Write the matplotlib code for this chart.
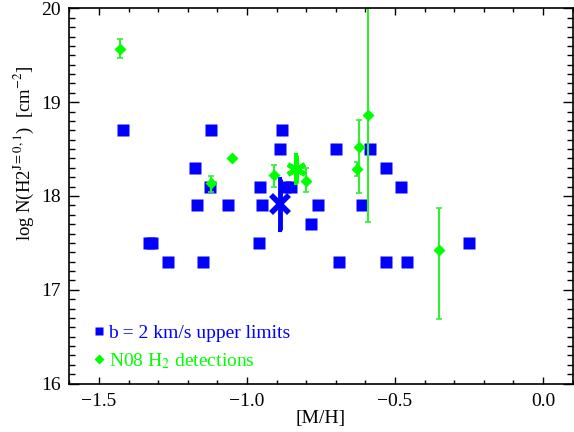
#!/usr/bin/env python
"""H2 column density upper limits vs metallicity."""
import matplotlib.pyplot as plt
from matplotlib.lines import Line2D
from matplotlib.ticker import MultipleLocator

# b = 2 km/s upper limits
lim_mh = [-1.42, -1.12, -0.88,
          -0.89, -0.70, -0.585,
          -1.175, -0.53,
          -1.125, -0.955, -0.87, -0.85, -0.48,
          -1.17, -1.065, -0.95, -0.76, -0.61,
          -0.785,
          -1.33, -1.32, -0.96, -0.25,
          -1.265, -1.15, -0.69, -0.53, -0.46]
lim_nh2 = [18.7, 18.7, 18.7,
           18.5, 18.5, 18.5,
           18.3, 18.3,
           18.1, 18.1, 18.1, 18.1, 18.1,
           17.9, 17.9, 17.9, 17.9, 17.9,
           17.7,
           17.5, 17.5, 17.5, 17.5,
           17.3, 17.3, 17.3, 17.3, 17.3]

# N08 H2 detections
det_mh = [-1.43, -1.12, -1.05, -0.91, -0.80, -0.63, -0.62, -0.59, -0.351]
det_nh2 = [19.57, 18.14, 18.41, 18.22, 18.16, 18.29, 18.52, 18.86, 17.42]
det_lo = [0.10, 0.10, 0.0, 0.12, 0.12, 0.08, 0.49, 1.14, 0.73]
det_hi = [0.10, 0.07, 0.0, 0.11, 0.14, 0.07, 0.29, 1.14, 0.45]

# mean values
mean_lim = (-0.89, 17.91, 0.27)
mean_det = (-0.835, 18.29, 0.15)

BLUE = '#0000ff'
GREEN = '#00ff00'
LGREEN = '#33ee33'
FS = 14


def main():
    """Draw and save the figure."""
    plt.rcParams['font.family'] = ['Liberation Serif', 'DejaVu Serif']
    plt.rcParams['mathtext.fontset'] = 'stix'
    fig = plt.figure(figsize=(5.74, 4.32), dpi=100)
    ax = fig.add_axes([0.1207, 0.112, 0.877, 0.8686])

    ax.plot(lim_mh, lim_nh2, 's', color=BLUE, ms=8, mec='none')
    ax.errorbar(det_mh, det_nh2, yerr=[det_lo, det_hi], fmt='D', color=GREEN,
                ecolor=LGREEN, ms=6, mec='none', elinewidth=1.5, capsize=2.5,
                capthick=1.2)

    ax.errorbar([mean_lim[0]], [mean_lim[1]], yerr=[mean_lim[2]], fmt='none',
                ecolor=BLUE, elinewidth=3.5, capsize=1.5, capthick=3)
    ax.plot([mean_lim[0]], [mean_lim[1]], 'x', color=BLUE, ms=13, mew=4)
    ax.errorbar([mean_det[0]], [mean_det[1]], yerr=[mean_det[2]],
                fmt='none', ecolor=GREEN, elinewidth=3.5, capsize=1.5,
                capthick=3)
    ax.plot([mean_det[0]], [mean_det[1]], marker=(6, 2, 0), color=GREEN,
            ms=14, mew=3.5, ls='none')

    ax.set_xlim(-1.6, 0.1)
    ax.set_ylim(16, 20)
    ax.xaxis.set_major_locator(MultipleLocator(0.5))
    ax.xaxis.set_minor_locator(MultipleLocator(0.1))
    ax.yaxis.set_major_locator(MultipleLocator(1))
    ax.yaxis.set_minor_locator(MultipleLocator(0.1))
    ax.xaxis.set_major_formatter(lambda v, p: f'{v:.1f}'.replace('-', '\u2212'))
    ax.tick_params(which='both', direction='in', top=True, right=True,
                   labelsize=FS, width=1, color='black')
    ax.tick_params(axis='x', which='major', length=5, pad=7)
    ax.tick_params(axis='x', which='minor', length=3)
    ax.tick_params(axis='y', which='major', length=7, pad=6)
    ax.tick_params(axis='y', which='minor', length=4)
    for s in ax.spines.values():
        s.set_linewidth(1.2)

    ax.set_xlabel('[M/H]', fontsize=FS, labelpad=0)
    fig.text(24 / 574, 1 - 153 / 432,
             'log N(H2$^{\\mathrm{J=0,1}}$)  [cm$^{-2}$]',
             fontsize=13.4, rotation=90, ha='center', va='center')

    handles = [Line2D([], [], ls='none', marker='s', color=BLUE, ms=6,
                      mec='none'),
               Line2D([], [], ls='none', marker='D', color=GREEN, ms=5,
                      mec='none')]
    labels = ['b = 2 km/s upper limits', 'N08 H$_2$ detections']
    leg = ax.legend(handles, labels, loc='lower left', frameon=False,
                    fontsize=FS, handlelength=0.5, handletextpad=0.25,
                    borderaxespad=0.3, labelspacing=0.45,
                    bbox_to_anchor=(0.022, -0.002))
    for txt, c in zip(leg.get_texts(), [BLUE, GREEN]):
        txt.set_color(c)

    fig.savefig('out.png', dpi=100)


if __name__ == "__main__":
    main()
